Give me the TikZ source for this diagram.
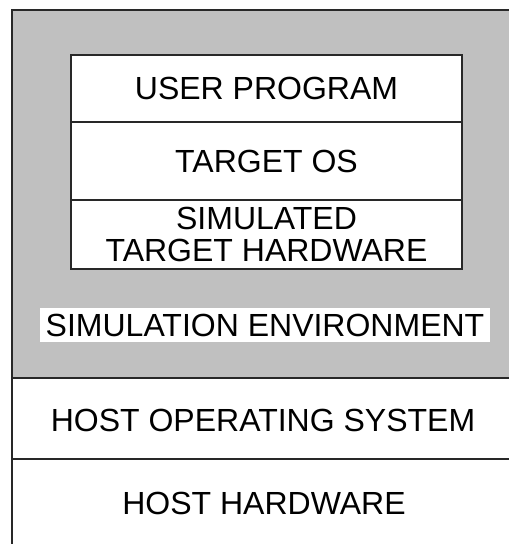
\documentclass[tikz,border=0pt]{standalone}
\usepackage{fontspec}
\setmainfont{Liberation Sans}
\usetikzlibrary{positioning}

\definecolor{simgray}{RGB}{192,192,192}
\definecolor{edge}{RGB}{40,40,40}

\tikzset{
  layertext/.style={font=\fontsize{32}{32}\selectfont, align=center},
  layer/.style={layertext, draw=edge, fill=white, minimum width=391pt,
    inner sep=0pt, outer sep=0pt},
}

\begin{document}
\begin{tikzpicture}[x=1pt,y=-1pt,line width=1.6pt]
        \useasboundingbox (0,0) rectangle (509,544);
        % simulation environment (grey) and host layers
        \fill[simgray] (12,10) rectangle (509,378);
        \draw[edge] (509,10) -- (12,10) -- (12,544);
        \draw[edge] (12,378) -- (509,378);
        \draw[edge] (12,459) -- (509,459);

        % target stack
        \node[layer, minimum height=67pt] (user) at (266.5,88.5) {USER PROGRAM};
        \node[layer, minimum height=78pt, below=0pt of user] (targetos) {TARGET OS};
        \node[layer, minimum height=69pt, below=0pt of targetos] (simhw)
            {SIMULATED\\TARGET HARDWARE};

        \node[layertext, fill=white, inner xsep=6pt, inner ysep=0pt,
              minimum height=34pt] (simenv) at (265,325) {SIMULATION ENVIRONMENT};
        \node[layertext] (hostos) at (263,420) {HOST OPERATING SYSTEM};
        \node[layertext] (hosthw) at (264,503) {HOST HARDWARE};
\end{tikzpicture}
\end{document}
